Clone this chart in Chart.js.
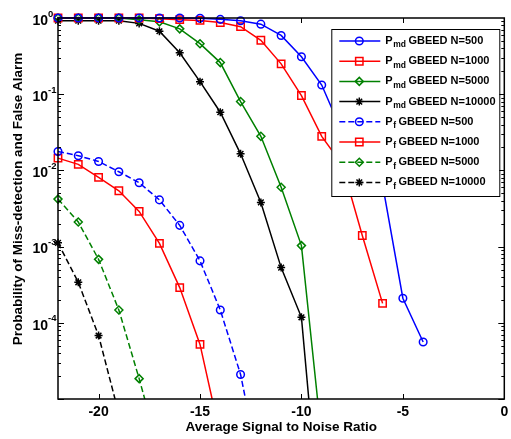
<!DOCTYPE html>
<html>
<head>
<meta charset="utf-8">
<script src="https://cdn.jsdelivr.net/npm/chart.js@4.4.1/dist/chart.umd.min.js"></script>
<style>
  html, body { margin: 0; padding: 0; background: #fff; }
  #chart { display: block; }
</style>
</head>
<body>
<canvas id="chart" width="511" height="439"></canvas>
<script>
// SNR grid in dB, every curve starts at -22
var snr = [-22, -21, -20, -19, -18, -17, -16, -15, -14, -13, -12, -11, -10, -9, -8, -7, -6, -5, -4];

// miss-detection probability
var pmd500   = [1, 1, 1, 1, 1, 1, 1, 0.99, 0.96, 0.92, 0.83, 0.59, 0.31, 0.132, 0.032, 0.015, 0.0065, 2.1e-4, 5.6e-5];
var pmd1000  = [1, 1, 1, 1, 1, 0.98, 0.95, 0.93, 0.87, 0.77, 0.51, 0.25, 0.096, 0.028, 0.012, 1.4e-3, 1.8e-4];
var pmd5000  = [1, 1, 1, 1, 0.95, 0.89, 0.72, 0.46, 0.26, 0.080, 0.028, 6.0e-3, 1.03e-3, 3e-6];
var pmd10000 = [0.92, 0.92, 0.92, 0.92, 0.85, 0.67, 0.35, 0.146, 0.058, 0.0165, 3.8e-3, 5.3e-4, 1.18e-4, 1.3e-7];

// false alarm probability
var pf500   = [0.0177, 0.0156, 0.0131, 0.0096, 0.0069, 0.0041, 1.9e-3, 6.5e-4, 1.47e-4, 2.1e-5, 1e-6];
var pf1000  = [0.0145, 0.012, 0.0081, 0.0054, 0.0029, 1.1e-3, 2.9e-4, 5.2e-5, 3.3e-6];
var pf5000  = [4.2e-3, 2.1e-3, 6.8e-4, 1.47e-4, 1.85e-5, 2e-6];
var pf10000 = [1.12e-3, 3.4e-4, 6.8e-5, 6.4e-6];

var names = ['Pmd GBEED N=500', 'Pmd GBEED N=1000', 'Pmd GBEED N=5000', 'Pmd GBEED N=10000',
             'Pf GBEED N=500', 'Pf GBEED N=1000', 'Pf GBEED N=5000', 'Pf GBEED N=10000'];

var xTicks = [-20, -15, -10, -5, 0];
var yExps = [0, -1, -2, -3, -4];

var FONT = '"Liberation Sans", Arial, sans-serif';

function pts(vals) {
  return vals.map(function (v, i) { return { x: snr[i], y: v }; });
}

function series(label, vals, color, style, r, dashed) {
  return {
    label: label,
    data: pts(vals),
    borderColor: color,
    backgroundColor: 'transparent',
    borderWidth: 1.5,
    borderDash: dashed ? [6, 3] : [],
    pointStyle: style,
    pointRadius: r,
    pointBorderColor: color,
    pointBackgroundColor: 'transparent',
    pointBorderWidth: 1.5,
    tension: 0,
    clip: { left: 8, top: 8, right: 8, bottom: 0 }
  };
}

function drawPlabel(ctx, text, x, y) {
  var m = text.match(/^P(\w+) (.*)$/);
  ctx.font = 'bold 11px ' + FONT;
  ctx.fillText('P', x, y);
  x += ctx.measureText('P').width + 0.5;
  ctx.font = 'bold 8.5px ' + FONT;
  ctx.fillText(m[1], x, y + 4);
  x += ctx.measureText(m[1]).width + 2.5;
  ctx.font = 'bold 11px ' + FONT;
  ctx.fillText(m[2], x, y);
}

// box, inward ticks, legend
var frame = {
  id: 'frame',
  afterDatasetsDraw: function (chart) {
    var ctx = chart.ctx, a = chart.chartArea;
    var xs = chart.scales.x, ys = chart.scales.y;
    ctx.save();
    ctx.strokeStyle = '#000';
    ctx.lineWidth = 1;
    ctx.beginPath();
    xTicks.forEach(function (t) {
      var px = Math.round(xs.getPixelForValue(t)) + 0.5;
      ctx.moveTo(px, a.bottom); ctx.lineTo(px, a.bottom - 5);
      ctx.moveTo(px, a.top); ctx.lineTo(px, a.top + 5);
    });
    for (var e = -5; e < 0; e++) {
      for (var k = 1; k < 10; k++) {
        var py = Math.round(ys.getPixelForValue(k * Math.pow(10, e))) + 0.5;
        var len = k === 1 ? 6 : 3;
        ctx.moveTo(a.left, py); ctx.lineTo(a.left + len, py);
        ctx.moveTo(a.right, py); ctx.lineTo(a.right - len, py);
      }
    }
    ctx.stroke();
    ctx.lineWidth = 1.5;
    ctx.strokeRect(a.left, a.top, a.right - a.left, a.bottom - a.top);

    // legend
    var lx = a.right - 173, ly = a.top + 11, lw = 168, lh = 167;
    ctx.fillStyle = '#fff';
    ctx.fillRect(lx, ly, lw, lh);
    ctx.lineWidth = 1;
    ctx.strokeRect(lx + 0.5, ly + 0.5, lw, lh);
    chart.data.datasets.forEach(function (ds, i) {
      var y = ly + 12 + i * 20.2;
      ctx.save();
      ctx.strokeStyle = ds.borderColor;
      ctx.lineWidth = ds.borderWidth;
      ctx.setLineDash(ds.borderDash);
      ctx.beginPath();
      ctx.moveTo(lx + 8, y); ctx.lineTo(lx + 49, y);
      ctx.stroke();
      ctx.setLineDash([]);
      ctx.fillStyle = 'transparent';
      Chart.helpers.drawPoint(ctx, {
        pointStyle: ds.pointStyle, radius: ds.pointRadius, rotation: 0, borderWidth: 1.5
      }, lx + 28, y);
      ctx.restore();
      ctx.fillStyle = '#000';
      ctx.textBaseline = 'middle';
      ctx.textAlign = 'left';
      drawPlabel(ctx, ds.label, lx + 54, y);
    });
    ctx.restore();
  },
  afterDraw: function (chart) {
    var ctx = chart.ctx, a = chart.chartArea, ys = chart.scales.y;
    ctx.save();
    ctx.fillStyle = '#000';
    ctx.textBaseline = 'middle';
    yExps.forEach(function (e) {
      var py = ys.getPixelForValue(Math.pow(10, e));
      ctx.textAlign = 'right';
      ctx.font = 'bold 14px ' + FONT;
      ctx.fillText('10', a.left - 10, py + 3);
      ctx.textAlign = 'left';
      ctx.font = 'bold 9.5px ' + FONT;
      ctx.fillText(String(e), a.left - 10, py - 4);
    });
    ctx.translate(18, 199);
    ctx.rotate(-Math.PI / 2);
    ctx.textAlign = 'center';
    ctx.font = 'bold 13.5px ' + FONT;
    ctx.fillText('Probability of Miss-detection and False Alarm', 0, 0);
    ctx.restore();
  }
};

new Chart(document.getElementById('chart'), {
  type: 'line',
  data: {
    datasets: [
      series(names[0], pmd500, '#0000ff', 'circle', 3.8, false),
      series(names[1], pmd1000, '#ff0000', 'rect', 5.2, false),
      series(names[2], pmd5000, '#008000', 'rectRot', 4, false),
      series(names[3], pmd10000, '#000000', 'star', 4, false),
      series(names[4], pf500, '#0000ff', 'circle', 3.8, true),
      series(names[5], pf1000, '#ff0000', 'rect', 5.2, false),
      series(names[6], pf5000, '#008000', 'rectRot', 4, true),
      series(names[7], pf10000, '#000000', 'star', 4, true)
    ]
  },
  options: {
    responsive: false,
    animation: false,
    devicePixelRatio: 1,
    layout: { padding: { left: 0, top: 18, right: 4, bottom: 0 } },
    plugins: { legend: { display: false }, tooltip: { enabled: false } },
    scales: {
      x: {
        type: 'linear',
        min: -22,
        max: 0,
        grid: { display: false, drawTicks: false },
        border: { display: false },
        afterBuildTicks: function (s) { s.ticks = xTicks.map(function (v) { return { value: v }; }); },
        afterFit: function (s) { s.height = 40; s.paddingLeft = 0; s.paddingRight = 0; },
        ticks: { color: '#000', padding: 5, font: { family: FONT, size: 14, weight: 'bold' } },
        title: {
          display: true,
          text: 'Average Signal to Noise Ratio',
          color: '#000',
          padding: { top: 0, bottom: 4 },
          font: { family: FONT, size: 13.5, weight: 'bold' }
        }
      },
      y: {
        type: 'logarithmic',
        min: 1e-5,
        max: 1,
        grid: { display: false, drawTicks: false },
        border: { display: false },
        ticks: { display: false },
        afterFit: function (s) { s.width = 58; }
      }
    }
  },
  plugins: [frame]
});
</script>
</body>
</html>
